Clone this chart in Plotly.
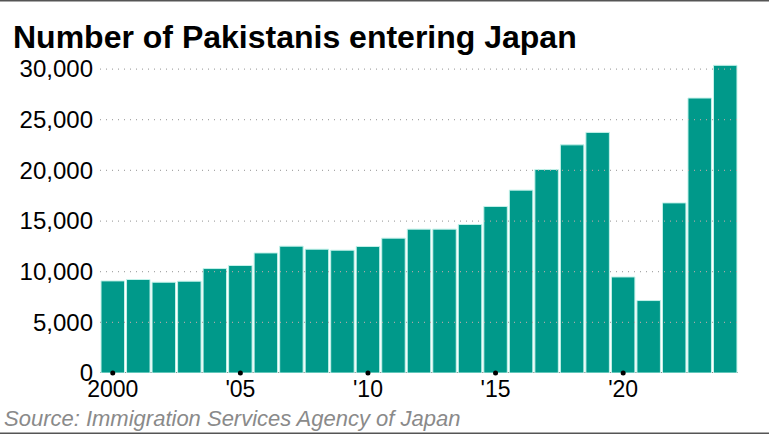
import plotly.graph_objects as go

# Pakistani arrivals in Japan
years = list(range(2000, 2025))
entrants = [9090, 9230, 8960, 9060, 10310, 10610, 11850, 12520, 12220, 12120,
            12490, 13310, 14200, 14200, 14660, 16440, 18050, 20090, 22520, 23750,
            9480, 7150, 16790, 27140, 30370]

tick_years = [2000, 2005, 2010, 2015, 2020]
tick_labels = ['2000', "'05", "'10", "'15", "'20"]
y_ticks = [0, 5000, 10000, 15000, 20000, 25000, 30000]
y_labels = ['0', '5,000', '10,000', '15,000', '20,000', '25,000', '30,000']

W, H = 769, 434
M = dict(l=100, r=31, t=64, b=61)
pw = W - M['l'] - M['r']
ph = H - M['t'] - M['b']

fig = go.Figure()

fig.add_trace(go.Bar(
    x=years, y=entrants,
    marker=dict(color='#00998a', line=dict(color='#c4f2ea', width=1)),
    hoverinfo='x+y'
))

# black dots marking the labelled years on the baseline
fig.add_trace(go.Scatter(
    x=tick_years, y=[0] * len(tick_years),
    mode='markers', marker=dict(color='black', size=5),
    cliponaxis=False, hoverinfo='skip'
))

# dotted gridlines drawn over the bars
shapes = []
for v in y_ticks[1:]:
    shapes.append(dict(type='line', xref='paper', yref='y', x0=0, x1=1, y0=v, y1=v,
                       line=dict(color='#a8a8a8', width=1.3, dash='1px,5px'), layer='above'))
shapes.append(dict(type='line', xref='paper', yref='y', x0=0, x1=1, y0=0, y1=0,
                   line=dict(color='#666666', width=1.5), layer='below'))
# thin frame lines at top and bottom of the graphic
for py in [H - 0.5, 0.5]:
    yp = (H - M['b'] - py) / ph
    shapes.append(dict(type='line', xref='paper', yref='paper',
                       x0=-M['l'] / pw, x1=1 + M['r'] / pw, y0=yp, y1=yp,
                       line=dict(color='#555555', width=2)))

fig.update_layout(
    width=W, height=H,
    margin=M,
    paper_bgcolor='white', plot_bgcolor='white',
    showlegend=False,
    bargap=0.08,
    font=dict(family='Liberation Sans, Arial, sans-serif', color='black'),
    shapes=shapes,
    title=dict(text='<b>Number of Pakistanis entering Japan</b>',
               x=13 / W, xanchor='left', y=1 - 48 / H, yanchor='bottom',
               font=dict(size=32, color='black')),
    annotations=[dict(
        text='<i>Source: Immigration Services Agency of Japan</i>',
        xref='paper', yref='paper', x=-98 / pw, xanchor='left',
        y=-(433 - (H - M['b'])) / ph, yanchor='bottom', showarrow=False,
        font=dict(size=22, color='#8a8a8a')
    )],
)

fig.update_xaxes(
    range=[1999.5, 2024.5],
    tickmode='array', tickvals=tick_years, ticktext=tick_labels,
    ticks='', showgrid=False, zeroline=False, showline=False,
    tickfont=dict(size=23), ticklabelstandoff=0
)
fig.update_yaxes(
    range=[0, 30500],
    tickmode='array', tickvals=y_ticks, ticktext=y_labels,
    ticks='', showgrid=False, zeroline=False, showline=False,
    tickfont=dict(size=24), ticklabelstandoff=6
)

# drop the page's default body margin so the figure sits at the window corner
fig.write_html('out.html', config={'displayModeBar': False},
               post_script="document.body.style.margin='0';")
